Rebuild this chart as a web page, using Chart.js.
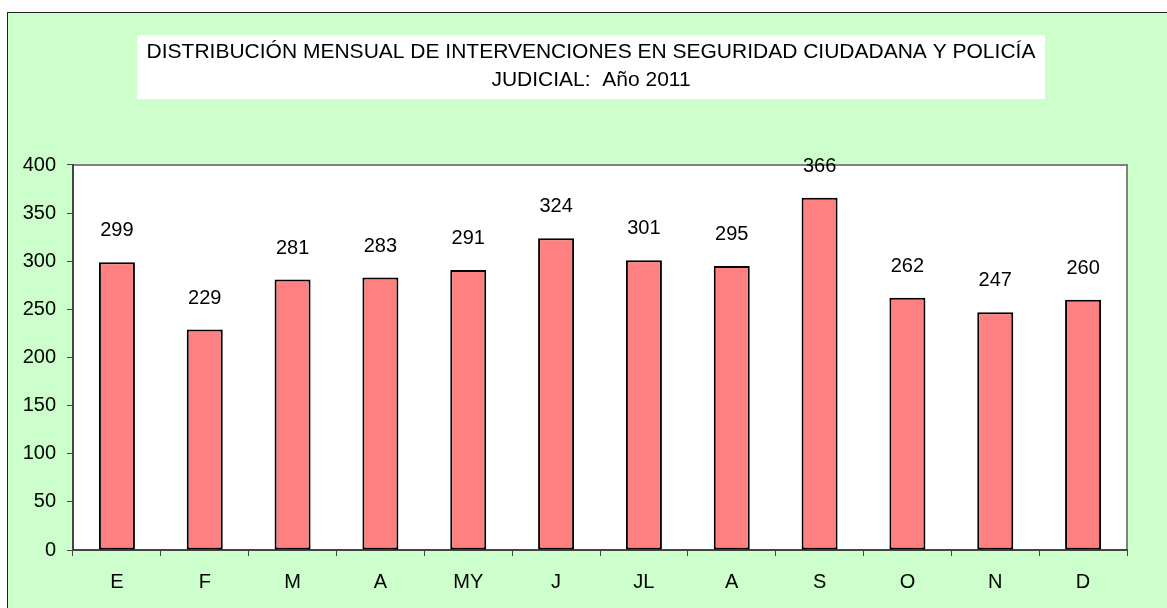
<!DOCTYPE html>
<html>
<head>
<meta charset="utf-8">
<script src="https://cdn.jsdelivr.net/npm/chart.js@4"></script>
<style>
  html, body { margin: 0; padding: 0; background: #fff; overflow: hidden; }
  #wrap {
    position: absolute; left: 7px; top: 12px;
    width: 1166px; height: 596px;
    border: 1px solid #222; background: #ccffcc;
  }
</style>
</head>
<body>
<div id="wrap"><canvas id="chart" width="1166" height="596"></canvas></div>
<script>
const months = ["E", "F", "M", "A", "MY", "J", "JL", "A", "S", "O", "N", "D"];
const intervenciones = [299, 229, 281, 283, 291, 324, 301, 295, 366, 262, 247, 260];
const yTicks = [0, 50, 100, 150, 200, 250, 300, 350, 400];
const titleLines = ["DISTRIBUCIÓN MENSUAL DE INTERVENCIONES EN SEGURIDAD CIUDADANA Y POLICÍA", "JUDICIAL:  Año 2011"];

const FONT = "Arial, 'Liberation Sans', sans-serif";

// white box behind title, white plot area with grey frame
const backdrop = {
  id: "backdrop",
  afterLayout(chart) {
    // centre the title over the whole canvas, not the padded box
    chart.titleBlock.left = 0;
    chart.titleBlock.right = chart.width;
    chart.titleBlock.width = chart.width;
  },
  beforeDraw(chart) {
    const ctx = chart.ctx;
    const a = chart.chartArea;
    ctx.save();
    ctx.fillStyle = "#fff";
    const cx = chart.width / 2;
    ctx.fillRect(cx - 454, 22, 908, 64);
    ctx.fillRect(a.left, a.top, a.right - a.left, a.bottom - a.top);
    ctx.strokeStyle = "#808080";
    ctx.lineWidth = 2;
    ctx.beginPath();
    ctx.moveTo(a.left, a.top);
    ctx.lineTo(a.right, a.top);
    ctx.lineTo(a.right, a.bottom);
    ctx.stroke();
    ctx.restore();
  }
};

// value labels above bars
const valueLabels = {
  id: "valueLabels",
  afterDatasetsDraw(chart) {
    const ctx = chart.ctx;
    const meta = chart.getDatasetMeta(0);
    ctx.save();
    ctx.font = "20px " + FONT;
    ctx.fillStyle = "#000";
    ctx.textAlign = "center";
    ctx.textBaseline = "alphabetic";
    meta.data.forEach((bar, i) => {
      ctx.fillText(String(chart.data.datasets[0].data[i]), bar.x, bar.y - 26);
    });
    ctx.restore();
  }
};

new Chart(document.getElementById("chart"), {
  type: "bar",
  data: {
    labels: months,
    datasets: [{
      data: intervenciones,
      backgroundColor: "#ff8080",
      borderColor: "#000",
      borderWidth: 2,
      borderSkipped: false,
      categoryPercentage: 1,
      barPercentage: 0.41
    }]
  },
  options: {
    responsive: false,
    animation: false,
    layout: { padding: { left: 0, right: 47, top: 0, bottom: 0 } },
    plugins: {
      legend: { display: false },
      tooltip: { enabled: false },
      title: {
        display: true,
        text: titleLines,
        color: "#000",
        font: { family: FONT, size: 21, weight: "normal", lineHeight: 1.333 },
        padding: { top: 25, bottom: 71 }
      }
    },
    scales: {
      x: {
        afterFit: (s) => { s.height = 59; },
        grid: { display: true, drawOnChartArea: false, tickLength: 6, color: "#444", offset: true },
        border: { display: true, color: "#444", width: 2 },
        ticks: { color: "#000", font: { family: FONT, size: 20 }, padding: 14 }
      },
      y: {
        min: 0,
        max: 400,
        afterFit: (s) => { s.width = 65; },
        afterBuildTicks: (s) => { s.ticks = yTicks.map(v => ({ value: v })); },
        grid: { display: true, drawOnChartArea: false, tickLength: 6, color: "#444" },
        border: { display: true, color: "#444", width: 2 },
        ticks: { color: "#000", font: { family: FONT, size: 20 }, padding: 11 }
      }
    }
  },
  plugins: [backdrop, valueLabels]
});
</script>
</body>
</html>
